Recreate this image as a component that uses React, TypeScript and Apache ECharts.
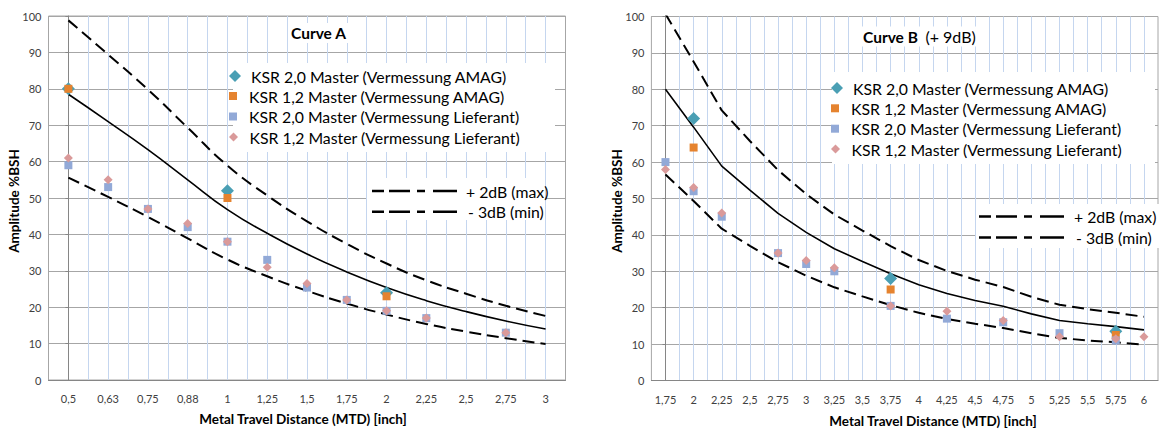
import React, { useEffect, useRef } from 'react';
import * as echarts from 'echarts';

const FONT = 'Lato, "Open Sans", sans-serif';

// ---------- Curve A ----------
const catsA = ['0,5', '0,63', '0,75', '0,88', '1', '1,25', '1,5', '1,75', '2', '2,25', '2,5', '2,75', '3'];
const curveA = [78.5, 71.0, 63.3, 55.0, 46.8, 40.3, 34.6, 29.7, 25.4, 21.8, 18.8, 16.2, 14.0];
const curveAMax = [98.8, 89.4, 79.8, 69.3, 58.9, 50.7, 43.6, 37.4, 32.0, 27.4, 23.7, 20.4, 17.6];
const curveAMin = [55.6, 50.3, 44.8, 38.9, 33.1, 28.5, 24.5, 21.0, 18.0, 15.4, 13.3, 11.5, 9.9];
const aKsr20Amag = [80, null, null, null, 52, null, null, null, 24, null, null, null, null];
const aKsr12Amag = [80, null, null, null, 50, null, null, null, 23, null, null, null, null];
const aKsr20Lief = [59, 53, 47, 42, 38, 33, 25.4, 22, 19, 17, null, 13, null];
const aKsr12Lief = [61, 55, 47, 43, 38, 31, 26.5, 22, 19, 17, null, 13, null];

// ---------- Curve B ----------
const catsB = ['1,75', '2', '2,25', '2,5', '2,75', '3', '3,25', '3,5', '3,75', '4', '4,25', '4,5', '4,75', '5', '5,25', '5,5', '5,75', '6'];
const curveB = [80.0, 69.6, 58.9, 52.3, 45.9, 40.7, 36.2, 32.7, 29.3, 26.3, 23.9, 22.0, 20.4, 18.3, 16.5, 15.6, 14.8, 13.9];
const curveBMax = [100.7, 87.6, 74.2, 65.8, 57.8, 51.2, 45.6, 41.2, 36.9, 33.1, 30.1, 27.7, 25.7, 23.0, 20.8, 19.6, 18.6, 17.5];
const curveBMin = [56.6, 49.3, 41.7, 37.0, 32.5, 28.8, 25.6, 23.1, 20.7, 18.6, 16.9, 15.6, 14.4, 13.0, 11.7, 11.0, 10.5, 9.8];
const bKsr20Amag = [null, 72, null, null, null, null, null, null, 28, null, null, null, null, null, null, null, 13.5, null];
const bKsr12Amag = [null, 64, null, null, null, null, null, null, 25, null, null, null, null, null, null, null, 12.5, null];
const bKsr20Lief = [60, 52, 45, null, 35, 32, 30, null, 20.5, null, 17, null, 16, null, 13, null, 11, null];
const bKsr12Lief = [58, 53, 46, null, 35, 33, 31, null, 20.5, null, 19, null, 16.5, null, 12, null, 11.5, 12];

const yTicks = [0, 10, 20, 30, 40, 50, 60, 70, 80, 90, 100];

const N1 = 'KSR 2,0 Master (Vermessung AMAG)';
const N2 = 'KSR 1,2 Master (Vermessung AMAG)';
const N3 = 'KSR 2,0 Master (Vermessung Lieferant)';
const N4 = 'KSR 1,2 Master (Vermessung Lieferant)';
const NMAX = '+ 2dB (max)';
const NMIN = '- 3dB (min)';

const C_TEAL = '#4A9FB4';
const C_ORANGE = '#E5832F';
const C_BLUE = '#92A9D7';
const C_PINK = '#DA9A9A';

const DIAMOND = 'path://M5,0L10,5L5,10L0,5Z';
const SQUARE = 'path://M0,0L10,0L10,10L0,10Z';

const LEG_FS = 15.8;

const toPts = (arr: (number | null)[]) =>
  arr.map((v, i) => (v == null ? null : [i, v])).filter((p) => p != null) as number[][];

function xAxisFor(cats: string[], gi: number) {
  return {
    type: 'value',
    gridIndex: gi,
    min: -0.5,
    max: cats.length - 0.5,
    interval: 0.5,
    axisLine: { show: true, onZero: false, lineStyle: { color: '#868686', width: 1 } },
    axisTick: { show: false },
    axisLabel: {
      margin: 13,
      color: '#404040',
      fontFamily: FONT,
      fontSize: 11,
      showMinLabel: true,
      showMaxLabel: true,
      formatter: (v: number) => {
        const r = Math.round(v);
        if (Math.abs(v - r) > 1e-6) return '';
        return cats[r] ?? '';
      },
    },
    splitLine: { show: true, showMinLine: false, showMaxLine: false, lineStyle: { color: '#C5D6EF', width: 1 } },
  };
}

function yAxisFor(gi: number) {
  return {
    type: 'value',
    gridIndex: gi,
    min: yTicks[0],
    max: yTicks[yTicks.length - 1],
    interval: 10,
    axisLine: { show: true, lineStyle: { color: '#868686', width: 1 } },
    axisTick: { show: true, length: 3, lineStyle: { color: '#868686' } },
    axisLabel: { margin: 7, color: '#404040', fontFamily: FONT, fontSize: 11 },
    splitLine: { show: true, lineStyle: { color: '#A6A6A6', width: 1 } },
  };
}

function lineSeries(name: string, data: number[], gi: number, dashed: boolean, smooth: number | boolean) {
  return {
    type: 'line',
    name,
    xAxisIndex: gi,
    yAxisIndex: gi,
    data: toPts(data),
    symbol: 'none',
    smooth,
    z: 2,
    lineStyle: dashed
      ? { color: '#000', width: 2, type: [12, 6] }
      : { color: '#000', width: 1.6, type: 'solid' },
    itemStyle: { color: '#000' },
  };
}

function scatterSeries(name: string, data: (number | null)[], gi: number, symbol: string, size: number, color: string, z: number) {
  return {
    type: 'scatter',
    name,
    xAxisIndex: gi,
    yAxisIndex: gi,
    data: toPts(data),
    symbol,
    symbolSize: size,
    z,
    itemStyle: { color, opacity: 1 },
  };
}

function legendRow(name: string, icon: string, size: number, cx: number, cy: number) {
  return {
    show: true,
    orient: 'horizontal',
    left: cx - 11,
    top: cy - 8,
    padding: 0,
    itemWidth: 22,
    itemHeight: size,
    symbolKeepAspect: true,
    selectedMode: false,
    data: [{ name, icon }],
    textStyle: { fontFamily: FONT, fontSize: LEG_FS, lineHeight: 16, color: '#000' },
  };
}

function dashLegend(bx: number, by: number, bw: number, bh: number, lx: number, y1: number, y2: number, tx: number) {
  const dash = [12, 5, 21, 7, 8, 8, 24, 40];
  const tStyle = (text: string) => ({ text, fontFamily: FONT, fontSize: LEG_FS, fill: '#000', verticalAlign: 'middle', align: 'left' });
  return [
    { type: 'rect', z: 1, shape: { x: bx, y: by, width: bw, height: bh }, style: { fill: '#fff' } },
    { type: 'line', z: 5, shape: { x1: lx, y1, x2: lx + 85, y2: y1 }, style: { stroke: '#000', lineWidth: 2.4, lineDash: dash } },
    { type: 'line', z: 5, shape: { x1: lx, y1: y2, x2: lx + 85, y2 }, style: { stroke: '#000', lineWidth: 2.4, lineDash: dash } },
    { type: 'text', z: 5, x: tx, y: y1, style: tStyle(NMAX) },
    { type: 'text', z: 5, x: tx + 2, y: y2, style: tStyle(NMIN) },
  ];
}

export default function App() {
  const ref = useRef<HTMLDivElement>(null);

  useEffect(() => {
    if (!ref.current) return;
    const chart = echarts.init(ref.current, undefined, { renderer: 'svg' });

    const axisTitle = (text: string, x: number, y: number, rot: number) => ({
      type: 'text',
      z: 5,
      x,
      y,
      rotation: rot,
      style: { text, fontFamily: FONT, fontSize: 13.5, fontWeight: 'bold', fill: '#000', align: 'center', verticalAlign: 'middle' },
    });

    const option: any = {
      animation: false,
      backgroundColor: '#fff',
      textStyle: { fontFamily: FONT },
      grid: [
        { left: 48.5, top: 16, width: 517, height: 364, show: true, borderColor: '#A6A6A6', borderWidth: 1, backgroundColor: 'transparent' },
        { left: 651.4, top: 16.5, width: 515, height: 364, show: true, borderColor: '#A6A6A6', borderWidth: 1, backgroundColor: 'transparent' },
      ],
      xAxis: [xAxisFor(catsA, 0), xAxisFor(catsB, 1)],
      yAxis: [yAxisFor(0), yAxisFor(1)],
      title: [
        {
          text: 'Curve A',
          left: 289,
          top: 23,
          padding: [2, 2, 2, 2],
          backgroundColor: '#fff',
          textStyle: { fontFamily: FONT, fontWeight: 'bold', fontSize: 15.5, lineHeight: 16, color: '#000' },
        },
        {
          text: '{b|Curve B}  {n|(+ 9dB)}',
          left: 860,
          top: 26.5,
          padding: [2, 3, 2, 3],
          backgroundColor: '#fff',
          textStyle: {
            fontFamily: FONT,
            fontSize: 15.5,
            lineHeight: 16,
            color: '#000',
            rich: {
              b: { fontFamily: FONT, fontWeight: 'bold', fontSize: 15.5, lineHeight: 16, color: '#000' },
              n: { fontFamily: FONT, fontWeight: 'normal', fontSize: 16, lineHeight: 16, color: '#000' },
            },
          },
        },
      ],
      legend: [
        legendRow(N1, DIAMOND, 12, 240, 76),
        legendRow(N2, SQUARE, 8, 240, 96),
        legendRow(N3, SQUARE, 8, 240, 116.5),
        legendRow(N4, DIAMOND, 9, 240, 137),
        legendRow(N1, DIAMOND, 12, 842, 88),
        legendRow(N2, SQUARE, 8, 842, 108.3),
        legendRow(N3, SQUARE, 8, 842, 128.7),
        legendRow(N4, DIAMOND, 9, 842, 149),
      ],
      graphic: [
        { type: 'rect', z: 1, shape: { x: 233, y: 63, width: 322, height: 89 }, style: { fill: '#fff' } },
        { type: 'rect', z: 1, shape: { x: 832, y: 72, width: 323, height: 92 }, style: { fill: '#fff' } },
        ...dashLegend(367, 178, 178, 42, 372, 191, 211.7, 466),
        ...dashLegend(976, 204, 185, 44, 979, 216.5, 237.5, 1074),
        axisTitle('Amplitude %BSH', 14, 201, Math.PI / 2),
        axisTitle('Amplitude %BSH', 617, 201, Math.PI / 2),
        axisTitle('Metal Travel Distance (MTD) [inch]', 303, 419, 0),
        axisTitle('Metal Travel Distance (MTD) [inch]', 933, 421, 0),
      ],
      series: [
        lineSeries('Curve A', curveA, 0, false, 0.5),
        lineSeries(NMAX, curveAMax, 0, true, 0.5),
        lineSeries(NMIN, curveAMin, 0, true, 0.5),
        scatterSeries(N1, aKsr20Amag, 0, 'diamond', 13, C_TEAL, 3),
        scatterSeries(N2, aKsr12Amag, 0, 'rect', 8, C_ORANGE, 4),
        scatterSeries(N3, aKsr20Lief, 0, 'rect', 8, C_BLUE, 5),
        scatterSeries(N4, aKsr12Lief, 0, 'diamond', 9, C_PINK, 6),
        lineSeries('Curve B', curveB, 1, false, false),
        lineSeries(NMAX, curveBMax, 1, true, false),
        lineSeries(NMIN, curveBMin, 1, true, false),
        scatterSeries(N1, bKsr20Amag, 1, 'diamond', 13, C_TEAL, 3),
        scatterSeries(N2, bKsr12Amag, 1, 'rect', 8, C_ORANGE, 4),
        scatterSeries(N3, bKsr20Lief, 1, 'rect', 8, C_BLUE, 5),
        scatterSeries(N4, bKsr12Lief, 1, 'diamond', 9, C_PINK, 6),
      ],
    };

    chart.setOption(option);
    return () => {
      chart.dispose();
    };
  }, []);

  return (
    <div
      ref={ref}
      style={{ position: 'absolute', left: 0, top: 0, width: 1161, height: 430, overflow: 'hidden', background: '#fff' }}
    />
  );
}
